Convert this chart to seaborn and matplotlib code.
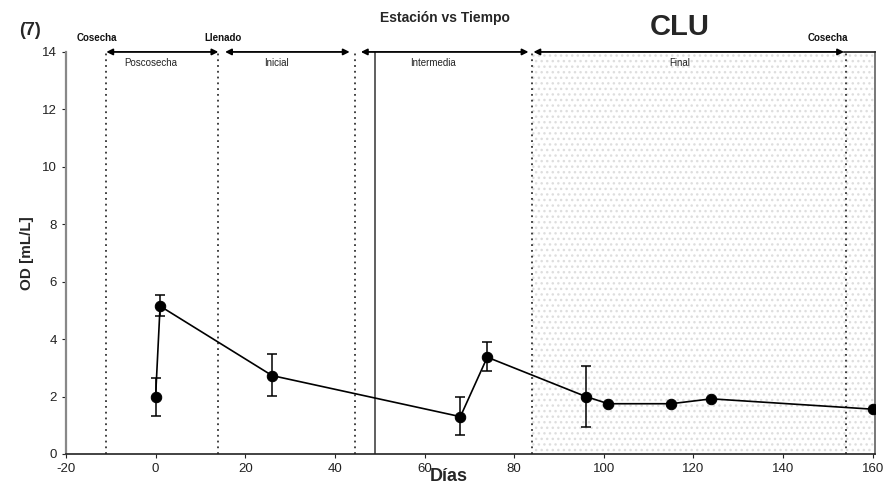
import numpy as np
import pandas as pd
import matplotlib
matplotlib.use("Agg")
import matplotlib.pyplot as plt
import seaborn as sns

# Sampling days and measured OD values
days = [0, 1, 26, 68, 74, 96, 101, 115, 124, 160]
od = [2.0, 5.15, 2.73, 1.30, 3.37, 2.0, 1.75, 1.75, 1.92, 1.56]
# Error-bar extents (lower, upper); None where no bar was drawn
err_low = [1.33, 4.82, 2.02, 0.65, 2.88, 0.95, None, None, None, None]
err_high = [2.65, 5.52, 3.47, 1.99, 3.90, 3.06, None, None, None, None]

# Season boundaries (days)
boundaries_dotted = [-11, 14, 44.5, 84, 154]
boundary_solid = 49
# Double-headed arrows that span each stage
stage_names = ["Poscosecha", "Inicial", "Intermedia", "Final"]
stage_starts = [-11, 15.5, 45.8, 84.3]
stage_ends = [14, 43.3, 83.2, 153.6]
stage_label_x = [-1, 27, 62, 117]
# Event markers above the arrows
event_names = ["Cosecha", "Llenado", "Cosecha"]
event_x = [-13, 15, 150]

y_ticks = [0, 2, 4, 6, 8, 10, 12, 14]
x_ticks = [-20, 0, 20, 40, 60, 80, 100, 120, 140, 160]

sns.set_theme(style="white")
plt.rcParams["font.family"] = ["Liberation Sans", "DejaVu Sans"]
plt.rcParams["axes.unicode_minus"] = False
plt.rcParams["hatch.linewidth"] = 1.0

fig = plt.figure(figsize=(8.89, 4.90), dpi=100)
ax = fig.add_axes([0.0742, 0.0735, 0.910, 0.8205])

# Speckled shading over the final stage
ax.axvspan(84, 160.5, facecolor="none", edgecolor="#dedede", hatch="...", lw=0, zorder=0)

for b in boundaries_dotted:
    ax.axvline(b, color="#333333", lw=1.3, ls=(0, (1, 2.2)), zorder=1)
ax.axvline(boundary_solid, color="#444444", lw=1.2, zorder=1)

df = pd.DataFrame({"Dias": days, "OD": od})
sns.lineplot(data=df, x="Dias", y="OD", ax=ax, color="black", lw=1.2,
             marker="o", markersize=7.5, markeredgecolor="black", zorder=4)

eb = [(d, v, lo, hi) for d, v, lo, hi in zip(days, od, err_low, err_high) if lo is not None]
ebx = [e[0] for e in eb]
eby = [e[1] for e in eb]
yerr = [[e[1] - e[2] for e in eb], [e[3] - e[1] for e in eb]]
ax.errorbar(ebx, eby, yerr=yerr, fmt="none", ecolor="black", elinewidth=1.1,
            capsize=3.5, capthick=1.1, zorder=3)

# Stage arrows along the top
for s0, s1, name, lx in zip(stage_starts, stage_ends, stage_names, stage_label_x):
    ax.annotate("", xy=(s0, 14), xytext=(s1, 14),
                arrowprops=dict(arrowstyle="<|-|>", color="black", lw=1.3,
                                mutation_scale=9, shrinkA=0, shrinkB=0),
                annotation_clip=False, zorder=5)
    ax.text(lx, 13.62, name, ha="center", va="center", fontsize=7, color="#222222")

for name, ex in zip(event_names, event_x):
    ax.text(ex, 14.5, name, ha="center", va="center", fontsize=7,
            fontweight="bold", color="#111111", clip_on=False)

ax.set_xlim(-20, 160.5)
ax.set_ylim(0, 14)
ax.set_xticks(x_ticks)
ax.set_yticks(y_ticks)
ax.tick_params(axis="both", labelsize=9.5, length=3, width=0.8, colors="#222222",
               direction="out", left=True, bottom=True)
ax.set_xlabel("")
ax.set_ylabel("OD [mL/L]", fontsize=11, fontweight="bold", labelpad=6)

for side in ["left", "right", "bottom", "top"]:
    ax.spines[side].set_visible(True)
ax.spines["left"].set_color("#888888")
ax.spines["left"].set_linewidth(1.6)
ax.spines["right"].set_color("#777777")
ax.spines["right"].set_linewidth(1.4)
ax.spines["bottom"].set_color("#222222")
ax.spines["bottom"].set_linewidth(1.2)
ax.spines["top"].set_color("#222222")
ax.spines["top"].set_bounds(153.6, 160.5)

fig.text(0.505, 0.027, "Días", ha="center", va="center", fontsize=13, fontweight="bold")
fig.text(0.500, 0.963, "Estación vs Tiempo", ha="center", va="center", fontsize=10, fontweight="bold")
fig.text(0.765, 0.945, "CLU", ha="center", va="center", fontsize=21, fontweight="bold")
fig.text(0.034, 0.938, "(7)", ha="center", va="center", fontsize=13, fontweight="bold")

fig.savefig("out.png", dpi=100)
